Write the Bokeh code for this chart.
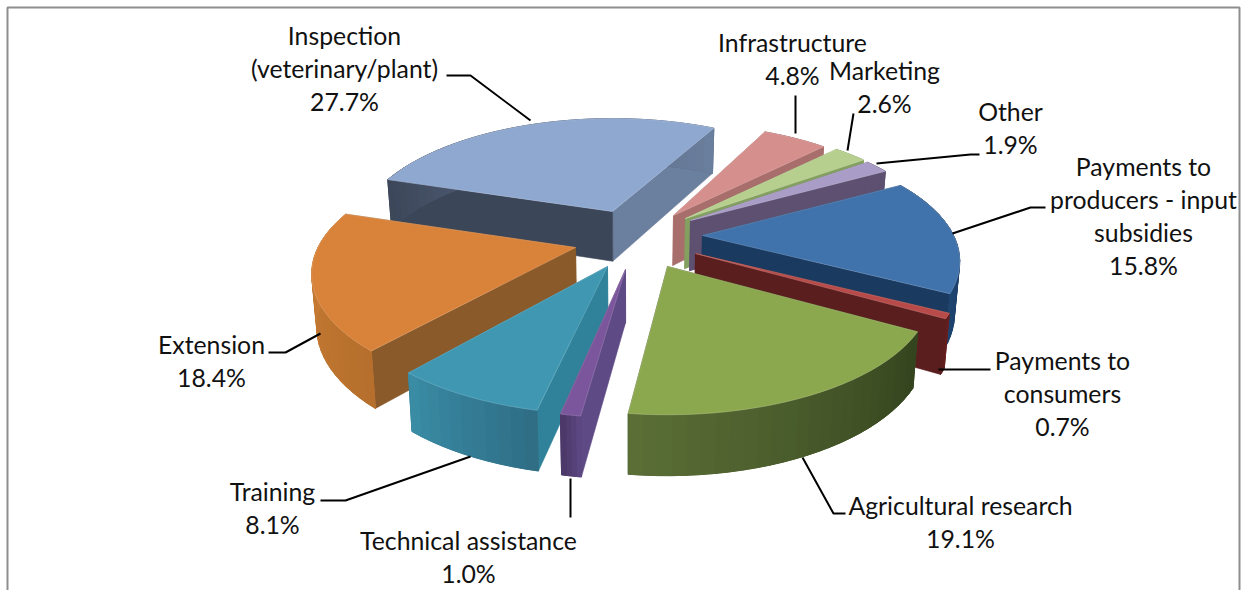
import math
from bokeh.plotting import figure
from bokeh.models import Range1d
from bokeh.core.properties import value
from bokeh.embed import file_html
from bokeh.resources import INLINE

# ---------------- data ----------------
CATEGORIES = ["Inspection (veterinary/plant)", "Infrastructure", "Marketing", "Other",
              "Payments to producers - input subsidies", "Payments to consumers",
              "Agricultural research", "Technical assistance", "Training", "Extension"]
SHARES = [27.7, 4.8, 2.6, 1.9, 15.8, 0.7, 19.1, 1.0, 8.1, 18.4]
LABEL_LINES = [["Inspection", "(veterinary/plant)"], ["Infrastructure"], ["Marketing"], ["Other"],
               ["Payments to", "producers - input", "subsidies"], ["Payments to", "consumers"],
               ["Agricultural research"], ["Technical assistance"], ["Training"], ["Extension"]]

# ---------------- layout / style ----------------
START_ANGLE = -72.5
R, Q, K = 257.5, 116.0, 0.2176
# explosion: apex pixel of each slice, a radius factor, and the small optical
# corrections (degrees) of the slice's start and end edges in the 3-D view
APEX = [(612, 211), (673, 215), (685, 218), (690, 220), (702, 235),
        (695, 253), (667, 266), (625, 269), (607, 266), (575, 247)]
SCALE = [0.975, 0.96, 0.965, 0.96, 0.975, 1.0, 1.0, 1.0, 1.0, 1.0]
NUDGE = [(0, 1.5), (-1, 0), (0, 0), (0, 0), (0, 0), (0, 0), (0, -2), (-1, -1), (0, -1.5), (0, 0)]
# top, start cut, end cut, wall at start angle, wall at end angle
COLORS = [("#8FA8D0", "#3C4659", "#6B7F9E", "#3C4659", "#6B7F9E"),
          ("#D58F8C", "#A86E6C", "#A86E6C", "#A86E6C", "#A86E6C"),
          ("#B7CF8E", "#84A060", "#84A060", "#84A060", "#84A060"),
          ("#A99CC6", "#5D5070", "#5D5070", "#5D5070", "#5D5070"),
          ("#4072AB", "#1A3A60", "#1A3A60", "#1A3A60", "#1E4470"),
          ("#B84B49", "#5B1E1E", "#5B1E1E", "#6B2020", "#5B1E1E"),
          ("#8CA84E", "#3A4A20", "#3A4A20", "#33431E", "#5B6F36"),
          ("#7B569C", "#5E4A85", "#4A3565", "#5E4A85", "#4A3565"),
          ("#3F97B2", "#2F8299", "#2F8299", "#2F6D85", "#3A8CA6"),
          ("#D9823A", "#8A5A2A", "#8A5A2A", "#B56F2C", "#D08138")]
LABEL_POS = [(344, 35), (792, 42), (884, 70), (1010, 111), (1143, 166),
             (1062, 360), (960, 505), (468, 540), (272, 491), (211, 344)]
LEADERS = [[(446, 75), (470, 75), (530, 120)], [(795, 95), (795, 133)], [(853, 113), (847, 150)],
           [(876, 163), (970, 154), (979, 154)], [(952, 233), (1030, 207), (1045, 207)],
           [(938, 369), (990, 369)], [(802, 457), (833, 513), (845, 513)],
           [(570, 478), (570, 517)], [(470, 456), (345, 500), (320, 500)],
           [(320, 333), (285, 352), (268, 352)]]
FONT = "Lato"
FONT_PX = 24.8
LINE_STEP = 33
DRAW_ORDER = [0, 1, 2, 3, 4, 5, 9, 8, 7, 6]


def hexmix(a, b, t):
    ca = [int(a[i:i + 2], 16) for i in (1, 3, 5)]
    cb = [int(b[i:i + 2], 16) for i in (1, 3, 5)]
    return "#%02x%02x%02x" % tuple(round(x + (y - x) * t) for x, y in zip(ca, cb))


def project(apex, phi_deg, scale):
    phi = math.radians(phi_deg)
    u, v = math.sin(phi), math.cos(phi)
    w = 1 + K * v
    return apex[0] + scale * R * u / w, apex[1] - scale * Q * v / w


def lower(pt):
    x, y = pt
    return x - 0.016 * (x - 630), y + 45 + 0.055 * (y - 125)


p = figure(width=1244, height=590, output_backend="svg", toolbar_location=None,
           x_range=Range1d(0, 1244), y_range=Range1d(590, 0), min_border=0,
           outline_line_color=None)
p.axis.visible = False
p.grid.visible = False

# chart frame
p.line([7, 7, 1239, 1239], [590, 7, 7, 590], line_color="#8E8E8E", line_width=2)

# slices: painter's order, walls first and the top last
edges = [START_ANGLE]
for s in SHARES:
    edges.append(edges[-1] + s * 3.6)

for i in DRAW_ORDER:
    a0, a1 = edges[i] + NUDGE[i][0], edges[i + 1] + NUDGE[i][1]
    apex = APEX[i]
    top, cut0, cut1, wall0, wall1 = COLORS[i]
    n = max(4, int((a1 - a0) / 2.5))
    angles = [a0 + (a1 - a0) * k / n for k in range(n + 1)]
    arc = [project(apex, a, SCALE[i]) for a in angles]
    low = [lower(pt) for pt in arc]
    apex_low = lower(apex)
    for edge, col in ((arc[-1], cut1), (arc[0], cut0)):
        e_low = lower(edge)
        p.patch([apex[0], edge[0], e_low[0], apex_low[0]], [apex[1], edge[1], e_low[1], apex_low[1]],
                fill_color=col, line_color=col, line_width=0.6)
    # solid band under the shaded strips
    band = hexmix(wall0, wall1, 0.5)
    p.patch([q[0] for q in arc] + [q[0] for q in reversed(low)],
            [q[1] for q in arc] + [q[1] for q in reversed(low)],
            fill_color=band, line_color=band, line_width=0.6)
    for k in range(n):
        col = hexmix(wall0, wall1, (k + 0.5) / n)
        p.patch([arc[k][0], arc[k + 1][0], low[k + 1][0], low[k][0]],
                [arc[k][1], arc[k + 1][1], low[k + 1][1], low[k][1]],
                fill_color=col, line_color=col, line_width=1)
    p.patch([apex[0]] + [q[0] for q in arc], [apex[1]] + [q[1] for q in arc],
            fill_color=top, line_color=hexmix(top, "#FFFFFF", 0.25), line_width=0.6)

# leader lines
for seg in LEADERS:
    p.line([q[0] for q in seg], [q[1] for q in seg], line_color="black", line_width=2)

# labels
for lines, share, (lx, ly) in zip(LABEL_LINES, SHARES, LABEL_POS):
    rows = lines + [f"{share:.1f}%"]
    p.text([lx] * len(rows), [ly + LINE_STEP * j for j in range(len(rows))], text=rows,
           text_font=value(FONT), text_font_size=f"{FONT_PX}px", text_color="#111111",
           text_align="center", text_baseline="middle")

open("out.html", "w").write(file_html(p, INLINE))
